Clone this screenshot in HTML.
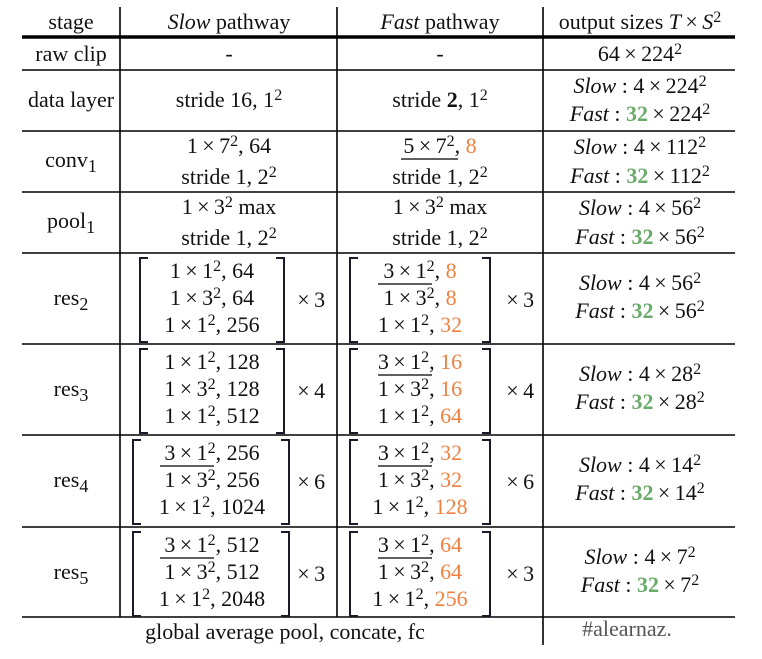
<!DOCTYPE html>
<html><head><meta charset="utf-8"><style>
html,body{margin:0;padding:0;background:#fff;}
svg{display:block;font-family:"Liberation Serif",serif;font-size:22px;fill:#111;}
.o{fill:#f08040}.g{fill:#6aaa6a;font-weight:bold}
</style></head><body>
<svg width="762" height="659" viewBox="0 0 762 659">
<g stroke="#000" stroke-width="1.6">
<line x1="120" y1="7" x2="120" y2="617"/>
<line x1="337" y1="7" x2="337" y2="617"/>
<line x1="543" y1="7" x2="543" y2="645"/>
<line x1="22" y1="37" x2="735" y2="37" stroke-width="3.5"/>
<line x1="22" y1="70" x2="735" y2="70"/>
<line x1="22" y1="131" x2="735" y2="131"/>
<line x1="22" y1="192" x2="735" y2="192"/>
<line x1="22" y1="253" x2="735" y2="253"/>
<line x1="22" y1="344" x2="735" y2="344"/>
<line x1="22" y1="435" x2="735" y2="435"/>
<line x1="22" y1="527" x2="735" y2="527"/>
<line x1="22" y1="617" x2="735" y2="617"/>
</g>
<g id="content"></g>
</svg>
<script>
const g=document.getElementById('content');
const NS='http://www.w3.org/2000/svg';
const S=x=>`<tspan baseline-shift="7" font-size="16">${x}</tspan>`;
const B=x=>`<tspan baseline-shift="-5" font-size="18">${x}</tspan>`;
const O=x=>`<tspan class="o">${x}</tspan>`;
const G=x=>`<tspan class="g">${x}</tspan>`;
const I=x=>`<tspan font-style="italic">${x}</tspan>`;
function T(x,y,html,name){const t=document.createElementNS(NS,'text');t.setAttribute('x',x);t.setAttribute('y',y);t.setAttribute('text-anchor','middle');t.innerHTML=html;


g.appendChild(t);return t;}
function L(x1,x2,y,name){const l=document.createElementNS(NS,'line');l.setAttribute('x1',x1);l.setAttribute('x2',x2);l.setAttribute('y1',y);l.setAttribute('y2',y);l.setAttribute('stroke','#000');l.setAttribute('stroke-width','1.3');


g.appendChild(l);}
function BR(xl,xr,y1,y2,name){const p=document.createElementNS(NS,'path');p.setAttribute('d',`M${xl+8},${y1}H${xl}V${y2}H${xl+8}M${xr-8},${y1}H${xr}V${y2}H${xr-8}`);p.setAttribute('fill','none');p.setAttribute('stroke','#1a1a2a');p.setAttribute('stroke-width','2');


g.appendChild(p);}
const X='\u2009×\u2009';
T(71,29,'stage','header-stage');
T(229,29,I('Slow')+' pathway','header-slow');
T(440,29,I('Fast')+' pathway','header-fast');
T(640,29,'output sizes '+I('T')+X+I('S')+S(2),'header-output');
T(71,61,'raw clip','stage-raw-clip');T(229,61,'-','slow-raw');T(440,61,'-','fast-raw');T(640,61,'64'+X+'224'+S(2),'out-raw');
T(71,107,'data layer','stage-data-layer');T(229,107,'stride 16, 1'+S(2),'slow-data');T(440,107,'stride <tspan font-weight="bold">2</tspan>, 1'+S(2),'fast-data');
T(640,93,I('Slow')+' : 4'+X+'224'+S(2),'out-data-slow');T(640,121,I('Fast')+' : '+G('32')+X+'224'+S(2),'out-data-fast');
T(71,167,'conv'+B('1'),'stage-conv1');T(229,153,'1'+X+'7'+S(2)+', 64','slow-conv1-a');T(229,184,'stride 1, 2'+S(2),'slow-conv1-b');
T(440,153,'5'+X+'7'+S(2)+', '+O('8'),'fast-conv1-a');L(401,458,159,'fast-conv1-underline');T(440,184,'stride 1, 2'+S(2),'fast-conv1-b');
T(640,154,I('Slow')+' : 4'+X+'112'+S(2),'out-conv1-slow');T(640,183,I('Fast')+' : '+G('32')+X+'112'+S(2),'out-conv1-fast');
T(71,228,'pool'+B('1'),'stage-pool1');T(229,214,'1'+X+'3'+S(2)+' max','slow-pool1-a');T(229,245,'stride 1, 2'+S(2),'slow-pool1-b');
T(440,214,'1'+X+'3'+S(2)+' max','fast-pool1-a');T(440,245,'stride 1, 2'+S(2),'fast-pool1-b');
T(640,215,I('Slow')+' : 4'+X+'56'+S(2),'out-pool1-slow');T(640,244,I('Fast')+' : '+G('32')+X+'56'+S(2),'out-pool1-fast');
const res=[
 {n:2,top:253,s:['1'+X+'1'+S(2)+', 64','1'+X+'3'+S(2)+', 64','1'+X+'1'+S(2)+', 256'],sl:false,f:['3'+X+'1'+S(2)+', '+O('8'),'1'+X+'3'+S(2)+', '+O('8'),'1'+X+'1'+S(2)+', '+O('32')],m:'3',o:'56'},
 {n:3,top:344,s:['1'+X+'1'+S(2)+', 128','1'+X+'3'+S(2)+', 128','1'+X+'1'+S(2)+', 512'],sl:false,f:['3'+X+'1'+S(2)+', '+O('16'),'1'+X+'3'+S(2)+', '+O('16'),'1'+X+'1'+S(2)+', '+O('64')],m:'4',o:'28'},
 {n:4,top:435,s:['3'+X+'1'+S(2)+', 256','1'+X+'3'+S(2)+', 256','1'+X+'1'+S(2)+', 1024'],sl:true,f:['3'+X+'1'+S(2)+', '+O('32'),'1'+X+'3'+S(2)+', '+O('32'),'1'+X+'1'+S(2)+', '+O('128')],m:'6',o:'14'},
 {n:5,top:527,s:['3'+X+'1'+S(2)+', 512','1'+X+'3'+S(2)+', 512','1'+X+'1'+S(2)+', 2048'],sl:true,f:['3'+X+'1'+S(2)+', '+O('64'),'1'+X+'3'+S(2)+', '+O('64'),'1'+X+'1'+S(2)+', '+O('256')],m:'3',o:'7'}
];
res.forEach(r=>{
 const t=r.top;
 T(71,t+52,'res'+B(r.n),'stage-res'+r.n);
 const wide=r.sl;
 BR(wide?133:140,wide?289:284,t+5,t+89,'slow-bracket-res'+r.n);
 r.s.forEach((s,i)=>T(212,t+25+i*27,s,'slow-res'+r.n+'-line'+(i+1)));
 if(r.sl)L(160,214,t+31,'slow-res'+r.n+'-underline');
 T(309,t+54,X+r.m,'slow-res'+r.n+'-repeat');
 BR(350,490,t+5,t+89,'fast-bracket-res'+r.n);
 r.f.forEach((s,i)=>T(420,t+25+i*27,s,'fast-res'+r.n+'-line'+(i+1)));
 L(378,432,t+31,'fast-res'+r.n+'-underline');
 T(518,t+54,X+r.m,'fast-res'+r.n+'-repeat');
 T(640,t+37,I('Slow')+' : 4'+X+r.o+S(2),'out-res'+r.n+'-slow');
 T(640,t+65,I('Fast')+' : '+G('32')+X+r.o+S(2),'out-res'+r.n+'-fast');
});
T(285,639,'global average pool, concate, fc','global-pool-row');
T(627,636,'#alearnaz.','watermark').setAttribute('fill','#555');
</script>
</body></html>
